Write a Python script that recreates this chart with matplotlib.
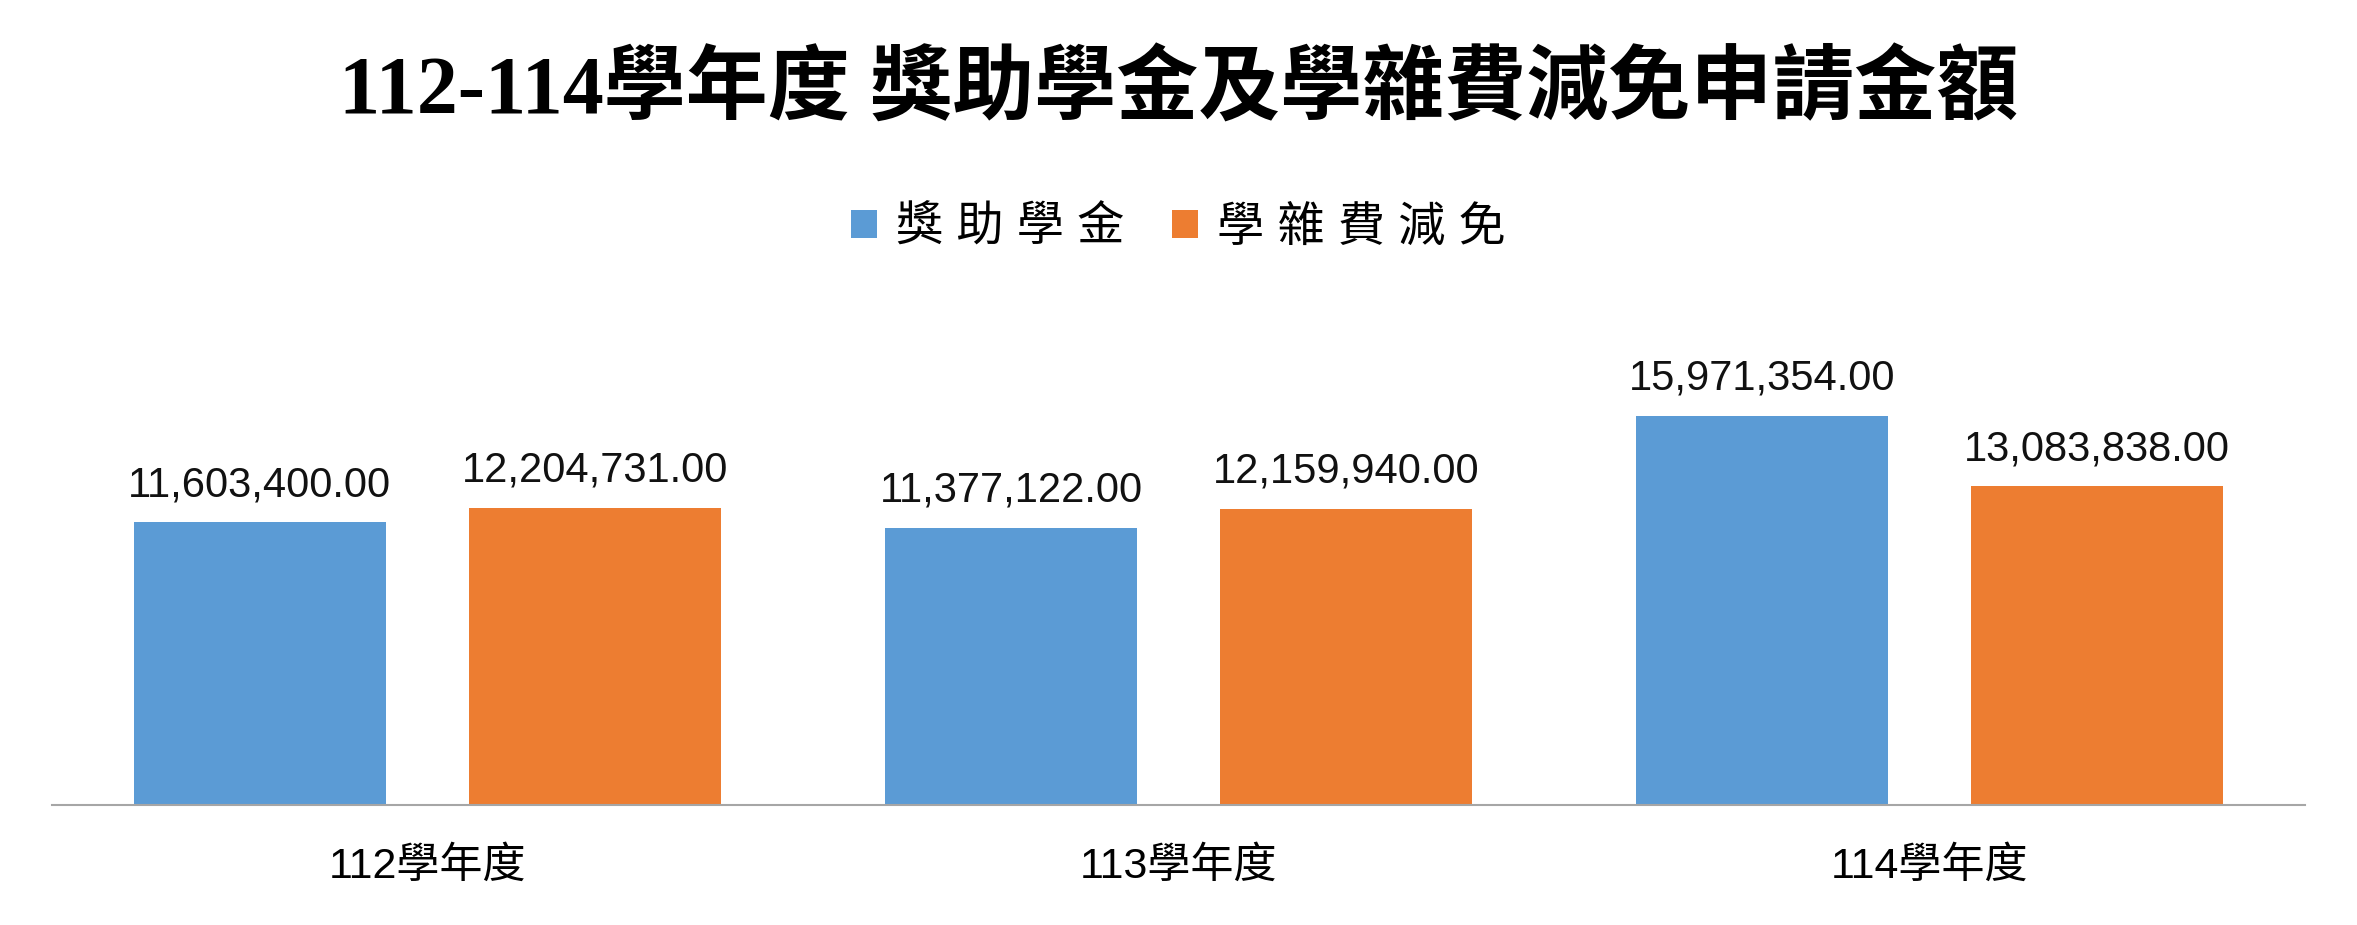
import matplotlib
matplotlib.use("Agg")
import matplotlib.pyplot as plt
import numpy as np

categories = ["112學年度", "113學年度", "114學年度"]
series_names = ["獎助學金", "學雜費減免"]
scholarship = [11603400, 11377122, 15971354]
tuition = [12204731, 12159940, 13083838]
colors = ["#5B9BD5", "#ED7D31"]

plt.rcParams['font.family'] = ['Liberation Sans', 'Noto Sans CJK TC', 'DejaVu Sans']
fig = plt.figure(figsize=(23.57, 9.25), dpi=100)
ax = fig.add_axes([0.022, 0.130, 0.956, 0.545])
x = np.arange(len(categories))
w = 0.336
for vals, off, c, name in [(scholarship, -0.223, colors[0], series_names[0]),
                           (tuition, 0.223, colors[1], series_names[1])]:
    bars = ax.bar(x + off, vals, w, color=c, label=" ".join(name))
    for b, v in zip(bars, vals):
        ax.text(b.get_x() + b.get_width()/2, v + 0.7e6, f"{v:,.2f}",
                ha='center', va='bottom', fontsize=30, color='#111111')
ax.set_xlim(-0.5, 2.5)
ax.set_ylim(0, 20.7e6)
ax.set_yticks([])
ax.set_xticks(x)
ax.set_xticklabels(categories, fontsize=31)
ax.tick_params(axis='x', length=0, pad=30)
for s in ['top', 'right', 'left']:
    ax.spines[s].set_visible(False)
ax.spines['bottom'].set_color('#A6A6A6')
ax.spines['bottom'].set_linewidth(1.5)

fig.text(0.5, 0.90, "112-114學年度 獎助學金及學雜費減免申請金額", ha='center', va='center',
         fontsize=59, fontweight='bold', family=['Liberation Serif', 'Noto Sans CJK TC'])
fig.legend(loc='center', bbox_to_anchor=(0.5, 0.753), ncol=2, frameon=False,
           fontsize=34, handlelength=0.55, handleheight=0.55, columnspacing=1.0, handletextpad=0.4)
fig.savefig("out.png", dpi=100)
